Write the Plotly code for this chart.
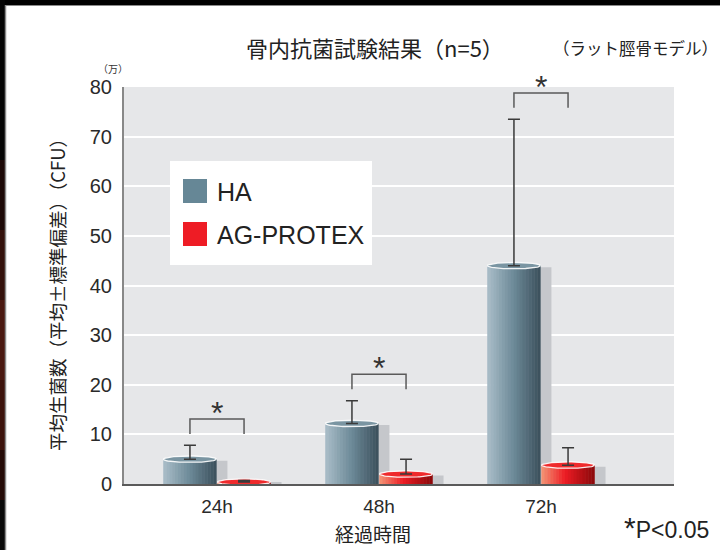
import numpy as np
import plotly.graph_objects as go

# ---------------- data ----------------
categories = ["24h", "48h", "72h"]
series_names = ["HA", "AG-PROTEX"]
ha_mean = [5.0, 12.2, 44.0]
ha_sd = [2.8, 4.6, 29.5]
ag_mean = [0.4, 2.0, 3.8]
ag_sd = [0.3, 3.0, 3.5]
y_ticks = [0, 10, 20, 30, 40, 50, 60, 70, 80]
sig_marks = ["*", "*", "*"]

title_text = "骨内抗菌試験結果（n=5）"
subtitle_text = "（ラット脛骨モデル）"
y_title = "平均生菌数（平均±標準偏差）（CFU）"
x_title = "経過時間"
unit_text = "（万）"
p_text = "<span style='font-size:30px'>*</span>P&lt;0.05"

# ---------------- geometry / style ----------------
W, H = 720, 550
L, R, T, B = 124, 674, 87, 484
y_max = 80
ppu = (B - T) / y_max           # px per y unit
cat_px0, cat_step = 217, 162    # pixel centre of first category, spacing
x_lo = (L - cat_px0) / cat_step
x_hi = (R - cat_px0) / cat_step
hw = 0.1635                     # half bar width (x units)
offs = [-0.167, 0.167]
dy = 3.2 / ppu                  # ellipse half height (y units)
NS = 18                         # gradient slices

grad = [
    [(0.0, (0xa9, 0xbd, 0xc8)), (0.5, (0x6d, 0x8a, 0x98)), (1.0, (0x3a, 0x4f, 0x5b))],
    [(0.0, (0xf5, 0x94, 0x74)), (0.45, (0xec, 0x1c, 0x24)), (1.0, (0x8a, 0x08, 0x0a))],
]
top_fill = ["#7a95a2", "#ef2a2c"]
legend_col = ["#668796", "#ee1c25"]
means = [ha_mean, ag_mean]
sds = [ha_sd, ag_sd]


def interp(stops, t):
    for (t0, c0), (t1, c1) in zip(stops[:-1], stops[1:]):
        if t0 <= t <= t1:
            f = (t - t0) / (t1 - t0) if t1 > t0 else 0
            c = [round(a + (b - a) * f) for a, b in zip(c0, c1)]
            return "rgb(%d,%d,%d)" % tuple(c)
    return "rgb(%d,%d,%d)" % stops[-1][1]


def px(xp):
    return (xp - L) / (R - L)


def py(yp):
    return (B - yp) / (B - T)


idx = np.arange(len(categories))
fig = go.Figure()

# shadows
for s in range(2):
    v = np.array(means[s])
    top = np.maximum(v - 0.3, 0.4)
    fig.add_trace(go.Bar(
        x=idx + offs[s] + 11 / cat_step, y=top + dy * 1.0, base=[-dy * 1.0] * 3,
        width=2 * hw, marker=dict(color="#c5c7cb", line=dict(width=0)),
        cliponaxis=False, hoverinfo="skip", showlegend=False))

# gradient cylinder bodies
for s in range(2):
    v = np.array(means[s])
    for k in range(NS):
        u = -1 + (2 * k + 1) / NS
        sk = np.sqrt(max(1 - u * u, 0))
        fig.add_trace(go.Bar(
            x=idx + offs[s] + u * hw, y=v + dy * sk, base=[-dy * sk] * 3,
            width=2 * hw / NS * 1.15,
            marker=dict(color=interp(grad[s], (k + 0.5) / NS), line=dict(width=0)),
            cliponaxis=False, hoverinfo="skip", showlegend=False))

# top ellipses
th = np.linspace(0, 2 * np.pi, 80)
for s in range(2):
    for i, v in enumerate(means[s]):
        c = i + offs[s]
        fig.add_trace(go.Scatter(
            x=c + hw * np.cos(th), y=v + dy * np.sin(th), mode="lines",
            fill="toself", fillcolor=top_fill[s],
            line=dict(color="rgba(255,255,255,0.9)", width=1.3),
            cliponaxis=False, hoverinfo="skip", showlegend=False))

# error bars (upper only)
for s in range(2):
    fig.add_trace(go.Scatter(
        x=idx + offs[s], y=means[s], mode="markers",
        marker=dict(size=2, color="rgba(0,0,0,0)"),
        error_y=dict(type="data", symmetric=False, array=sds[s],
                     arrayminus=[0] * 3, color="#3a3a3a", thickness=1.5, width=6),
        cliponaxis=False, hoverinfo="skip", showlegend=False))

annotations = []
# significance brackets
for i in range(len(categories)):
    peak = max(ha_mean[i] + ha_sd[i], ag_mean[i] + ag_sd[i])
    leg = peak + 2.3
    top = leg + 3.0
    x0, x1 = i + offs[0], i + offs[1]
    fig.add_trace(go.Scatter(
        x=[x0, x0, x1, x1], y=[leg, top, top, leg], mode="lines",
        line=dict(color="#5a5a5a", width=1.5), cliponaxis=False,
        hoverinfo="skip", showlegend=False))
    annotations.append(dict(
        x=i, y=top, xref="x", yref="y", text=sig_marks[i], showarrow=False,
        xanchor="center", yanchor="bottom", yshift=-14,
        font=dict(family="Liberation Sans, Arial", size=32, color="#333333")))

# texts
cjk = "Noto Sans CJK JP"


def txt(xp, yp, text, size, family=cjk, xanchor="center", angle=0, color="#222"):
    return dict(x=px(xp), y=py(yp), xref="paper", yref="paper", text=text,
                showarrow=False, xanchor=xanchor, yanchor="middle", textangle=angle,
                font=dict(family=family, size=size, color=color))


annotations += [
    txt(375, 47, title_text, 22),
    txt(720, 48, subtitle_text, 16.5, xanchor="right"),
    txt(113, 69, unit_text, 10, color="#333"),
    txt(57, 290, y_title, 18.5, angle=-90),
    txt(373, 533, x_title, 19),
    txt(711, 527, p_text, 23, family="Liberation Sans, Arial", xanchor="right"),
]

shapes = []
# legend box
shapes.append(dict(type="rect", xref="paper", yref="paper", x0=px(170), x1=px(372),
                   y0=py(265), y1=py(161), fillcolor="white", line=dict(width=0), layer="above"))
leg_rows = [191, 234]
for s in range(2):
    yc = leg_rows[s]
    shapes.append(dict(type="rect", xref="paper", yref="paper", x0=px(183), x1=px(207),
                       y0=py(yc + 12), y1=py(yc - 12), fillcolor=legend_col[s],
                       line=dict(width=0), layer="above"))
    annotations.append(txt(215, yc + 1, series_names[s], 25,
                           family="Liberation Sans, Arial", xanchor="left"))

# frame: black top and left strips
shapes.append(dict(type="rect", xref="paper", yref="paper", x0=px(0), x1=px(W),
                   y0=py(5), y1=py(0), fillcolor="black", line=dict(width=0), layer="above"))
strip = [(0, 160, "#050505"), (160, 230, "#1c0806"), (230, 300, "#33100b"),
         (300, 380, "#4a1810"), (380, 450, "#3d130c"), (450, 500, "#240a06"), (500, 550, "#080808")]
for y0p, y1p, col in strip:
    shapes.append(dict(type="rect", xref="paper", yref="paper", x0=px(0), x1=px(5),
                       y0=py(y1p), y1=py(y0p), fillcolor=col, line=dict(width=0), layer="above"))
shapes.append(dict(type="line", xref="paper", yref="paper", x0=px(5.5), x1=px(5.5),
                   y0=py(550), y1=py(5), line=dict(color="#8a8a8a", width=1.5), layer="above"))
shapes.append(dict(type="line", xref="paper", yref="paper", x0=px(5), x1=px(W),
                   y0=py(5.5), y1=py(5.5), line=dict(color="#8a8a8a", width=1), layer="above"))

fig.update_layout(
    width=W, height=H,
    margin=dict(l=L, r=W - R, t=T, b=H - B),
    paper_bgcolor="white", plot_bgcolor="#e6e7e9",
    barmode="overlay", showlegend=False,
    annotations=annotations, shapes=shapes,
    xaxis=dict(range=[x_lo, x_hi], tickmode="array", tickvals=list(idx),
               ticktext=categories, showgrid=False, zeroline=False,
               showline=True, linecolor="#5a5a5a", linewidth=1.5, layer="below traces",
               ticks="", ticklabelstandoff=4,
               tickfont=dict(family="Liberation Sans, Arial", size=19, color="#2a2a2a")),
    yaxis=dict(range=[0, y_max], tickmode="array", tickvals=y_ticks,
               showgrid=True, gridcolor="white", gridwidth=1.5, zeroline=False,
               showline=True, linecolor="#888888", linewidth=2, layer="below traces",
               ticks="", ticklabelstandoff=6,
               tickfont=dict(family="Liberation Sans, Arial", size=20, color="#2a2a2a")),
)

fig.write_html(
    "out.html",
    config={"displayModeBar": False},
    post_script="document.body.style.margin='0';document.body.style.overflow='hidden';",
)
